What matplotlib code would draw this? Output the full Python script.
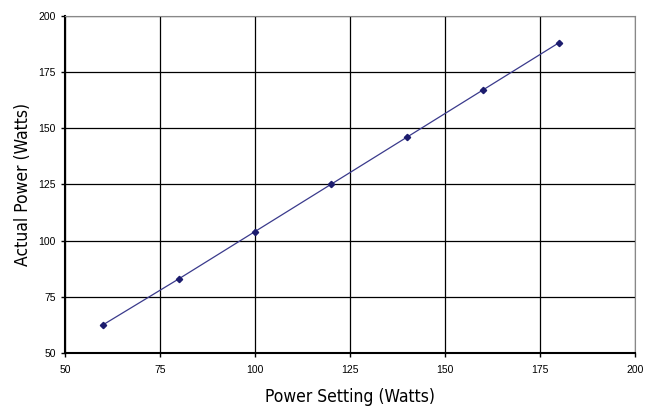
import matplotlib
matplotlib.use('Agg')
import matplotlib.pyplot as plt

# データ
power_setting = [60, 80, 100, 120, 140, 160, 180]
actual_power = [62.5, 83, 104, 125, 146, 167, 188]
x_ticks = [50, 75, 100, 125, 150, 175, 200]
y_ticks = [50, 75, 100, 125, 150, 175, 200]

fig = plt.figure(figsize=(6.47, 4.08), dpi=100)
ax = fig.add_axes([0.1005, 0.135, 0.8805, 0.826])

ax.plot(power_setting, actual_power, color='#3a3a8c', linewidth=0.9,
        marker='D', markersize=3.2, markerfacecolor='#1c1c6e', markeredgecolor='#1c1c6e', zorder=3)

ax.set_xlim(50, 200)
ax.set_ylim(50, 200)
ax.set_xticks(x_ticks)
ax.set_yticks(y_ticks)
ax.grid(True, color='black', linewidth=0.9)

ax.set_xlabel('Power Setting (Watts)', fontsize=12.5, family='DejaVu Sans',
              fontstretch='condensed', labelpad=9)
ax.set_ylabel('Actual Power (Watts)', fontsize=12.5, family='DejaVu Sans',
              fontstretch='condensed', labelpad=5)

for lab in ax.get_xticklabels() + ax.get_yticklabels():
    lab.set_family(['Liberation Sans', 'DejaVu Sans'])
    lab.set_fontsize(7.5)
ax.tick_params(direction='out', length=3, width=1, color='black')
ax.tick_params(axis='x', pad=6)

ax.spines['left'].set_linewidth(1.5)
ax.spines['bottom'].set_linewidth(1.5)
ax.spines['top'].set_color('#888888')
ax.spines['right'].set_color('#888888')

fig.savefig('out.png', dpi=100)
